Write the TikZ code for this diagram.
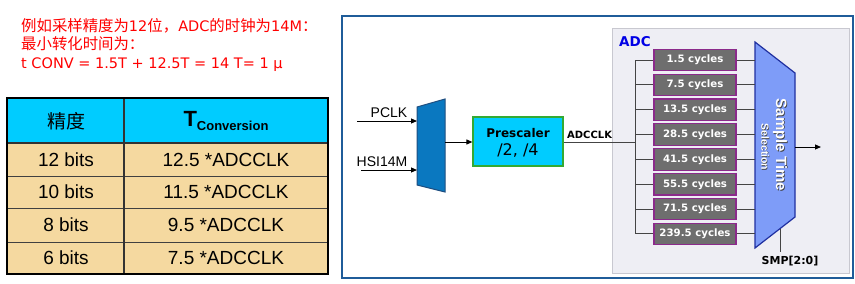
\documentclass[tikz,border=0pt]{standalone}
\usepackage{fontspec}
\setmainfont{Liberation Sans}
\newfontfamily\cjk{Noto Sans CJK SC}
\newfontfamily\dvs{DejaVu Sans}
\usetikzlibrary{arrows.meta}
\definecolor{redtxt}{HTML}{FF0000}
\definecolor{hdrcyan}{HTML}{00CCFF}
\definecolor{rowtan}{HTML}{F5D9A0}
\definecolor{frameblue}{HTML}{1F5C99}
\definecolor{muxblue}{HTML}{0A78C0}
\definecolor{muxedge}{HTML}{1E4E80}
\definecolor{preedge}{HTML}{33AA33}
\definecolor{adcbg}{HTML}{EEEEF4}
\definecolor{adcedge}{HTML}{C8C8D0}
\definecolor{cycfill}{HTML}{6E6E6E}
\definecolor{cycedge}{HTML}{8B2A8B}
\definecolor{selfill}{HTML}{7E9CF8}
\definecolor{seledge}{HTML}{2030A0}
\definecolor{wire}{HTML}{444444}
\newcommand{\lt}[1]{{\dvs\fontsize{14.5}{18.5}\selectfont #1}}
\tikzset{
  cyc/.style={draw=cycedge, line width=1.2pt, fill=cycfill, minimum width=82pt, minimum height=21.5pt, inner sep=0pt, text=white, font=\dvs\bfseries\fontsize{10.2}{11}\selectfont},
  wireline/.style={draw=wire, line width=1pt},
  arr/.style={draw=black, line width=1pt, -{Triangle[length=6pt,width=5pt]}},
  cell/.style={inner sep=0pt, font=\fontsize{19}{22}\selectfont},
}
\begin{document}
\begin{tikzpicture}[x=1pt,y=-1pt]
\useasboundingbox (0,0) rectangle (855,284);
% red text
\node[anchor=north west, inner sep=0pt, align=left, text=redtxt, font=\cjk\fontsize{15.4}{18.5}\selectfont] (note) at (21,18)
  {例如采样精度为\lt{12}位，\lt{ADC}的时钟为\lt{14M}：\\最小转化时间为：\\\lt{t CONV = 1.5T + 12.5T = 14 T= 1 μ}};
% table
\fill[hdrcyan] (7,98) rectangle (328,143);
\fill[rowtan] (7,143) rectangle (328,274);
\draw[line width=1pt, black!75] (7,176) -- (328,176) (7,208) -- (328,208) (7,242) -- (328,242);
\draw[line width=1.5pt, black!80] (7,143) -- (328,143) (124,98) -- (124,274);
\draw[line width=2.5pt, black] (7,98) rectangle (328,274);
\node[cell, font=\cjk\fontsize{19}{22}\selectfont] (h1) at (66,121) {精度};
\node[cell] (h2) at (226,121) {\bfseries\fontsize{22}{24}\selectfont T\raisebox{-4pt}{\fontsize{13}{14}\selectfont Conversion}};
\node[cell] (r1a) at (66,160) {12 bits};
\node[cell] (r1b) at (226,160) {12.5 *ADCCLK};
\node[cell] (r2a) at (66,192) {10 bits};
\node[cell] (r2b) at (226,192) {11.5 *ADCCLK};
\node[cell] (r3a) at (66,225) {8 bits};
\node[cell] (r3b) at (226,225) {9.5 *ADCCLK};
\node[cell] (r4a) at (66,258) {6 bits};
\node[cell] (r4b) at (226,258) {7.5 *ADCCLK};
% diagram frame
\draw[frameblue, line width=2pt] (342,16) rectangle (853,278);
% ADC box
\draw[adcedge, fill=adcbg, line width=1pt] (612,28) rectangle (849,273);
\node[inner sep=0pt, text={rgb,255:red,0;green,0;blue,230}, font=\dvs\bfseries\fontsize{13.5}{14}\selectfont] (adclbl) at (635,42) {ADC};
% mux
\draw[muxedge, fill=muxblue, line width=1pt] (417,107) -- (445,99) -- (445,192) -- (417,185) -- cycle;
\coordinate (muxin1) at (417,121);
\coordinate (muxin2) at (417,170);
\coordinate (muxout) at (445,142);
\coordinate (pclkstart) at (357,121);
\coordinate (hsistart) at (361,170);
\draw[arr] (pclkstart) -- (muxin1);
\draw[arr] (hsistart) -- (muxin2);
\node[anchor=south, inner sep=0pt, font=\fontsize{14}{15}\selectfont] (pclk) at (389,118) {PCLK};
\node[anchor=south, inner sep=0pt, font=\fontsize{14}{15}\selectfont] (hsi) at (382,167) {HSI14M};
% prescaler
\node[draw=preedge, line width=1.2pt, fill=hdrcyan, minimum width=90pt, minimum height=49pt, inner sep=0pt] (pre) at (518,141.5) {};
\node[inner sep=0pt, font=\dvs\bfseries\fontsize{12}{13}\selectfont] (pret) at (518,133) {Prescaler};
\node[inner sep=0pt, font=\dvs\fontsize{16}{17}\selectfont] (pred) at (518,150) {/2, /4};
\draw[arr] (muxout) -- (pre.west |- muxout);
% ADCCLK wire
\coordinate (busmid) at (635,142);
\draw[wireline] (pre.east |- busmid) -- (busmid);
\node[anchor=south west, inner sep=0pt, font=\dvs\bfseries\fontsize{10}{11}\selectfont] (adcclk) at (567,139) {ADCCLK};
% sample time selector
\draw[seledge, fill=selfill, line width=1.2pt] (755,42) -- (795,73) -- (795,217) -- (755,248) -- cycle;
\coordinate (selout) at (795,147);
\coordinate (outend) at (821,147);
\draw[arr] (selout) -- (outend);
% cycle boxes
\coordinate (bustop) at (635,60);
\coordinate (busbot) at (635,234);
\draw[wireline] (bustop) -- (busbot);
\foreach \i/\t in {0/1.5, 1/7.5, 2/13.5, 3/28.5, 4/41.5, 5/55.5, 6/71.5, 7/239.5} {
  \node[cyc] (c\i) at (695,60+24.85*\i) {\t{} cycles};
  \draw[wireline] (635,60+24.85*\i) -- (c\i.west);
  \draw[wireline] (c\i.east) -- (755,60+24.85*\i);
}
% rotated labels
\node[rotate=-90, inner sep=0pt, text=black!75, font=\bfseries\fontsize{15}{16}\selectfont] (st0) at (780.7,145.7) {Sample Time};
\node[rotate=-90, inner sep=0pt, text=white, font=\bfseries\fontsize{15}{16}\selectfont] (st) at (780,145) {Sample Time};
\node[rotate=-90, inner sep=0pt, text=black!75, font=\bfseries\fontsize{10.5}{11}\selectfont] (sel0) at (765.6,147.6) {Selection};
\node[rotate=-90, inner sep=0pt, text=white, font=\bfseries\fontsize{10.5}{11}\selectfont] (sel) at (765,147) {Selection};
% SMP
\coordinate (smptop) at (780,228.6);
\coordinate (smpbot) at (780,252);
\draw[wireline] (smptop) -- (smpbot);
\node[inner sep=0pt, font=\dvs\bfseries\fontsize{11}{12}\selectfont] (smp) at (790,261) {SMP[2:0]};
\end{tikzpicture}
\end{document}
